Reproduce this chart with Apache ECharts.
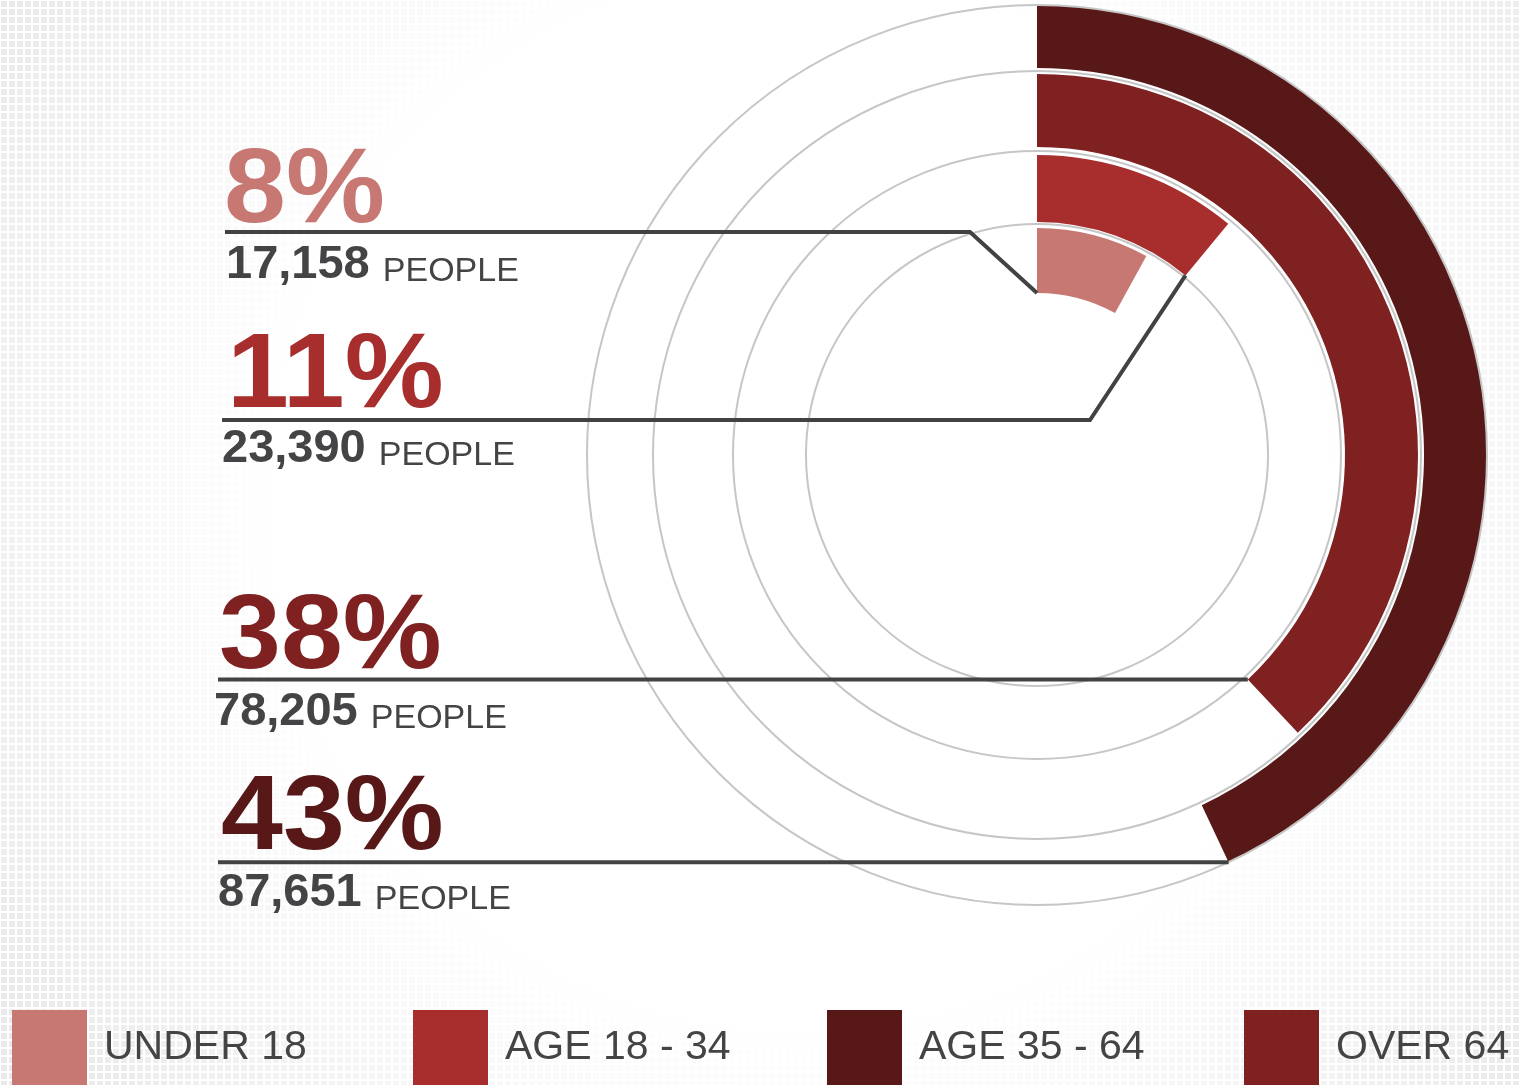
<!DOCTYPE html>
<html>
<head>
<meta charset="utf-8">
<script src="https://cdn.jsdelivr.net/npm/echarts@6/dist/echarts.min.js"></script>
<style>
  html, body { margin: 0; padding: 0; background: #fff; }
  #main { width: 1519px; height: 1085px; }
</style>
</head>
<body>
<div id="main"></div>
<script>
// data, legend order
var groups = ['UNDER 18', 'AGE 18 - 34', 'AGE 35 - 64', 'OVER 64'];
var percent = [8, 11, 43, 38];
var people = [17158, 23390, 87651, 78205];
var colors = ['#c87873', '#a82d2d', '#581818', '#7f2121'];
// rings from the inside out (index into the arrays above)
var ringOrder = [0, 1, 3, 2];

var FONT = '"Liberation Sans", Arial, Helvetica, sans-serif';
var cx = 1037, cy = 455;
var ringRadius = [[162, 227], [233, 300], [308, 381], [387, 450]];
var gridCircles = [231, 304, 384, 450];
var legendLeft = [12, 413, 827, 1244];

// point on a ring at a given percentage of the full turn
var polar = function (pct, r) {
  var a = pct / 100 * 2 * Math.PI;
  return [cx + r * Math.sin(a), cy - r * Math.cos(a)];
};

// text rows (top to bottom follow ringOrder)
var rows = [
  { pctX: 224, pctBase: 222, numX: 226, numBase: 279, lineX: 225, lineY: 232, elbowX: 970, anchor: function () { return polar(0, ringRadius[0][0]); } },
  { pctX: 227, pctBase: 407, numX: 222, numBase: 463, lineX: 222, lineY: 420, elbowX: 1090, anchor: function () { return polar(percent[ringOrder[1]], ringRadius[1][0]); } },
  { pctX: 219, pctBase: 668, numX: 214, numBase: 726, lineX: 218, lineY: null, elbowX: null, anchor: function () { return polar(percent[ringOrder[2]], ringRadius[2][0]); } },
  { pctX: 221, pctBase: 849, numX: 218, numBase: 907, lineX: 218, lineY: null, elbowX: null, anchor: function () { return polar(percent[ringOrder[3]], ringRadius[3][1]); } }
];

var fmt = function (n) { return String(n).replace(/\B(?=(\d{3})+(?!\d))/g, ','); };

// dotted background tile
var tile = document.createElement('canvas');
tile.width = 8; tile.height = 8;
var tctx = tile.getContext('2d');
tctx.fillStyle = '#ffffff';
tctx.fillRect(0, 0, 8, 8);
tctx.fillStyle = '#e9e9e9';
tctx.fillRect(1, 1, 6, 6);

var dom = document.getElementById('main');
var myChart = echarts.init(dom);

var series = [];
for (var k = 0; k < ringOrder.length; k++) {
  var i = ringOrder[k];
  series.push({
    type: 'pie',
    name: groups[i],
    center: [cx, cy],
    radius: ringRadius[k],
    startAngle: 90,
    clockwise: true,
    silent: true,
    z: 5,
    label: { show: false },
    labelLine: { show: false },
    emphasis: { disabled: true },
    itemStyle: { borderWidth: 0 },
    data: [
      { name: groups[i], value: percent[i], itemStyle: { color: colors[i] } },
      { name: '', value: 100 - percent[i], itemStyle: { color: 'rgba(0,0,0,0)' } }
    ]
  });
}

var graphics = [];
// background
graphics.push({
  type: 'rect', z: 0, silent: true,
  shape: { x: 0, y: 0, width: 1519, height: 1085 },
  style: { fill: { image: tile, repeat: 'repeat' } }
});
graphics.push({
  type: 'rect', z: 1, silent: true,
  shape: { x: 0, y: 0, width: 1519, height: 1085 },
  style: {
    fill: {
      type: 'radial', x: 0.527, y: 0.46, r: 0.88,
      colorStops: [
        { offset: 0, color: 'rgba(255,255,255,1)' },
        { offset: 0.55, color: 'rgba(255,255,255,1)' },
        { offset: 1, color: 'rgba(255,255,255,0)' }
      ]
    }
  }
});
// grid circles
gridCircles.forEach(function (r) {
  graphics.push({
    type: 'circle', z: 8, silent: true,
    shape: { cx: cx, cy: cy, r: r },
    style: { fill: 'none', stroke: '#c6c6c6', lineWidth: 2 }
  });
});
// leader lines and labels
rows.forEach(function (row, k) {
  var i = ringOrder[k];
  var end = row.anchor();
  var y0 = row.lineY === null ? end[1] : row.lineY;
  var pts = [[row.lineX, y0]];
  if (row.elbowX !== null) pts.push([row.elbowX, y0]);
  pts.push(end);
  graphics.push({
    type: 'polyline', z: 9, silent: true,
    shape: { points: pts },
    style: { stroke: '#424242', lineWidth: 4, fill: null, lineJoin: 'miter' }
  });
  graphics.push({
    type: 'text', z: 9, silent: true,
    x: row.pctX, y: row.pctBase - 0.28 * 106,
    scaleX: 1.05,
    style: {
      text: percent[i] + '%',
      x: 0, y: 0,
      font: 'bold 106px ' + FONT,
      fill: colors[i], align: 'left', verticalAlign: 'middle'
    }
  });
  graphics.push({
    type: 'text', z: 9, silent: true,
    style: {
      text: '{n|' + fmt(people[i]) + ' }{p|PEOPLE}',
      x: row.numX, y: row.numBase + 10,
      align: 'left', verticalAlign: 'bottom',
      rich: {
        n: { font: 'bold 47px ' + FONT, fill: '#444446', lineHeight: 47, verticalAlign: 'bottom' },
        p: { font: '34px ' + FONT, fill: '#444446', lineHeight: 38, verticalAlign: 'bottom' }
      }
    }
  });
});

var legends = groups.map(function (g, i) {
  return {
    data: [{ name: g, itemStyle: { color: colors[i] } }],
    left: legendLeft[i],
    top: 1010,
    padding: 0,
    itemGap: 0,
    itemWidth: 75,
    itemHeight: 75,
    icon: 'rect',
    selectedMode: false,
    textStyle: { fontSize: 41, color: '#444446', fontFamily: FONT, padding: [0, 0, 0, 12] }
  };
});

var option = {
  animation: false,
  backgroundColor: '#ffffff',
  legend: legends,
  graphic: { elements: graphics },
  series: series
};

myChart.setOption(option);
window.addEventListener('resize', function () {
  myChart.resize();
});
</script>
</body>
</html>
